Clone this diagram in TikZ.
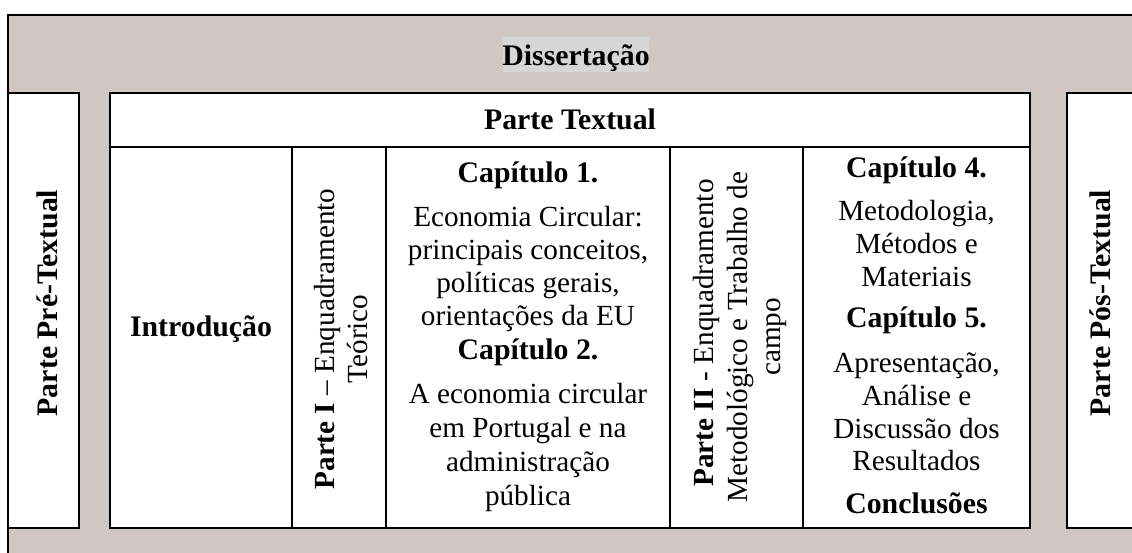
\documentclass[tikz,border=0pt]{standalone}
\usepackage{fontspec}
\setmainfont{Liberation Serif}
\definecolor{band}{RGB}{209,199,194}
\definecolor{hl}{RGB}{214,214,214}
\begin{document}
\begin{tikzpicture}[x=1pt,y=-1pt,line width=2.6pt,
  cellbox/.style={draw=black,fill=white},
  txt/.style={inner sep=0pt,anchor=base,font=\fontsize{29.2}{34}\selectfont},
  btxt/.style={inner sep=0pt,anchor=base,font=\fontsize{29.8}{34}\selectfont\bfseries},
  vtxt/.style={txt,rotate=90},
  vbtxt/.style={btxt,rotate=90}]
\useasboundingbox (0,0) rectangle (1132,552);
\clip (0,0) rectangle (1132,552);
\fill[white] (0,0) rectangle (1132,552);
% outer band
\draw[fill=band] (8,15) rectangle (1150,570);
% side boxes
\draw[cellbox] (8,93) rectangle (79,528);
\draw[cellbox] (1067,93) rectangle (1150,528);
% main textual box
\draw[cellbox] (110,93) rectangle (1030,528);
\draw (110,147) -- (1030,147);
\foreach \xx in {292,386,670,803} \draw (\xx,147) -- (\xx,528);
% title
\fill[hl] (503,37) rectangle (649,72);
\node[btxt] (diss) at (576,65) {Dissertação};
\node[btxt] (ptext) at (570,129) {Parte Textual};
\node[vbtxt] (pre) at (57,303) {Parte Pré-Textual};
\node[vbtxt] (pos) at (1110,303) {Parte Pós-Textual};
\node[btxt] (intro) at (201,336) {Introdução};
% Parte I
\node[vtxt] (p1a) at (334,339) {\textbf{Parte I} – Enquadramento};
\node[vtxt] (p1b) at (367,339) {Teórico};
% Parte II
\node[vtxt] (p2a) at (713,333) {\textbf{Parte II} - Enquadramento};
\node[vtxt] (p2b) at (747,337) {Metodológico e Trabalho de};
\node[vtxt] (p2c) at (780,337) {campo};
% Capitulos 1-2
\node[btxt] (c1) at (528,182) {Capítulo 1.};
\node[txt] (c1a) at (528,226) {Economia Circular:};
\node[txt] (c1b) at (528,259) {principais conceitos,};
\node[txt] (c1c) at (528,292) {políticas gerais,};
\node[txt] (c1d) at (528,325) {orientações da EU};
\node[btxt] (c2) at (528,359) {Capítulo 2.};
\node[txt] (c2a) at (528,403) {A economia circular};
\node[txt] (c2b) at (528,437) {em Portugal e na};
\node[txt] (c2c) at (528,471) {administração};
\node[txt] (c2d) at (528,505) {pública};
% Capitulos 4-5
\node[btxt] (c4) at (916.5,177) {Capítulo 4.};
\node[txt] (c4a) at (916.5,220) {Metodologia,};
\node[txt] (c4b) at (916.5,253) {Métodos e};
\node[txt] (c4c) at (916.5,286) {Materiais};
\node[btxt] (c5) at (916.5,327) {Capítulo 5.};
\node[txt] (c5a) at (916.5,372) {Apresentação,};
\node[txt] (c5b) at (916.5,405) {Análise e};
\node[txt] (c5c) at (916.5,438) {Discussão dos};
\node[txt] (c5d) at (916.5,470) {Resultados};
\node[btxt] (concl) at (916.5,513) {Conclusões};
\end{tikzpicture}
\end{document}
